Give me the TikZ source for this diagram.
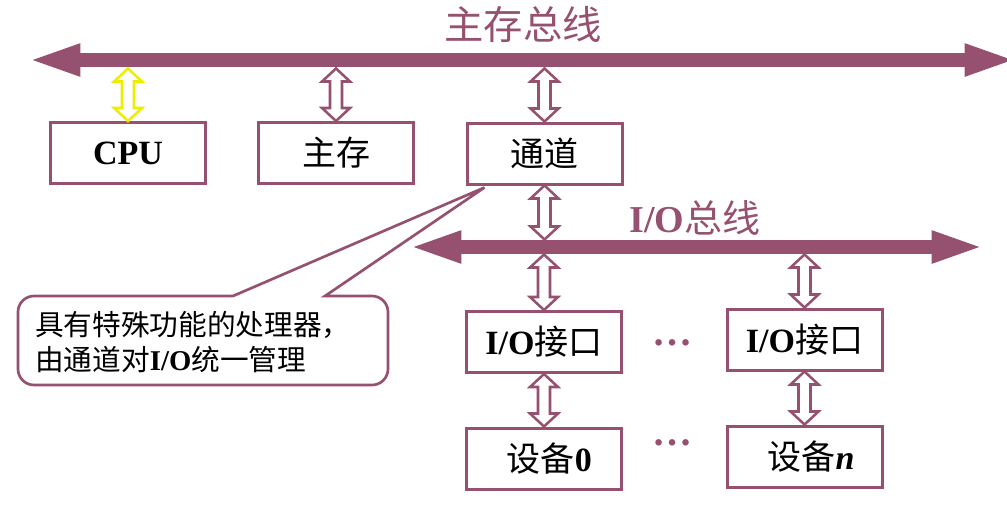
\documentclass[tikz,border=0pt]{standalone}
\usepackage{fontspec}
\setmainfont{Liberation Serif}
\newfontfamily\cjk{Noto Sans CJK SC}
\usetikzlibrary{arrows.meta,calc}
\definecolor{bp}{RGB}{150,80,112}
\definecolor{yl}{RGB}{238,238,0}
\newcommand\hollowarrow[3]{%
  \draw[#1] let \p1=(#2), \p2=(#3) in
    (\x1,\y1) -- (\x1+10.5pt,\y1+9.75pt) -- (\x1+4.5pt,\y1+9.75pt)
    -- (\x1+4.5pt,\y2-9.75pt) -- (\x1+10.5pt,\y2-9.75pt) -- (\x1,\y2)
    -- (\x1-10.5pt,\y2-9.75pt) -- (\x1-4.5pt,\y2-9.75pt)
    -- (\x1-4.5pt,\y1+9.75pt) -- (\x1-10.5pt,\y1+9.75pt) -- cycle;}
\begin{document}
\begin{tikzpicture}[x=0.75pt,y=-0.75pt,
  box/.style={draw=bp, line width=2.25pt, fill=white, minimum width=116.25pt,
    minimum height=45.75pt, inner sep=0pt, font=\fontsize{25.5pt}{30pt}\selectfont},
  bus/.style={draw=bp, line width=10.5pt,
    {Triangle[length=40pt,width=21.5pt]}-{Triangle[length=40pt,width=21.5pt]}},
  ha/.style={draw=bp, fill=white, line width=1.9pt, line join=miter},
  hay/.style={ha, draw=yl},
  lbl/.style={text=bp, inner sep=0pt}]
\useasboundingbox (0,0) rectangle (1007,508);
% buses
\coordinate (m1) at (27,60);
\coordinate (m2) at (1018,60);
\draw[bus] (m1) -- (m2);
\coordinate (n1) at (408,247);
\coordinate (n2) at (985,247);
\draw[bus] (n1) -- (n2);
\node[lbl, font=\cjk\fontsize{29.5pt}{32pt}\selectfont] (t1) at (523,24) {主存总线};
\node[lbl, font=\fontsize{28.5pt}{32pt}\selectfont] (t2) at (695,218) {\bfseries I/O{\cjk\mdseries 总线}};
% boxes
\node[box] (cpu) at (128,153) {\bfseries CPU};
\node[box] (mem) at (336,153) {\cjk 主存};
\node[box] (ch) at (544.5,153.5) {\cjk 通道};
\node[box] (io1) at (544,342) {\textbf{I/O}{\cjk 接口}};
\node[box] (io2) at (804.5,339.5) {\textbf{I/O}{\cjk 接口}};
\node[box] (d0) at (544,458.5) {\hspace{8pt}{\cjk 设备}\textbf{0}};
\node[box] (dn) at (804.5,456.5) {\hspace{10pt}{\cjk 设备}\textbf{\textit{n}}};
\node[lbl, font=\bfseries\fontsize{30pt}{30pt}\selectfont] (dots1) at (672,343) {…};
\node[lbl, font=\bfseries\fontsize{30pt}{30pt}\selectfont] (dots2) at (672,443) {…};
% hollow double arrows
\coordinate (b1) at (0,68.5);
\coordinate (b2t) at (0,239.5);
\coordinate (b2b) at (0,254.5);
\hollowarrow{hay}{cpu.north}{cpu.north |- b1}
\hollowarrow{ha}{mem.north}{mem.north |- b1}
\hollowarrow{ha}{ch.north}{ch.north |- b1}
\hollowarrow{ha}{ch.south |- b2t}{ch.south}
\hollowarrow{ha}{io1.north}{io1.north |- b2b}
\hollowarrow{ha}{io2.north}{io2.north |- b2b}
\hollowarrow{ha}{d0.north}{io1.south}
\hollowarrow{ha}{dn.north}{io2.south}
% callout
\coordinate (tip) at ($(ch.south west)+(19,2)$);
\draw[draw=bp, line width=2pt, fill=white, line join=miter]
  (233,296) -- (tip) -- (325,296)
  [rounded corners=12pt] -- (388,296) -- (388,385) -- (18,385) -- (18,296)
  [sharp corners] -- cycle;
\node[anchor=west, align=left, inner sep=0pt,
  font=\cjk\fontsize{21.5pt}{26.25pt}\selectfont] (note) at (35,342)
  {具有特殊功能的处理器，\\由通道对{\rmfamily\bfseries I/O}统一管理};
\end{tikzpicture}
\end{document}
